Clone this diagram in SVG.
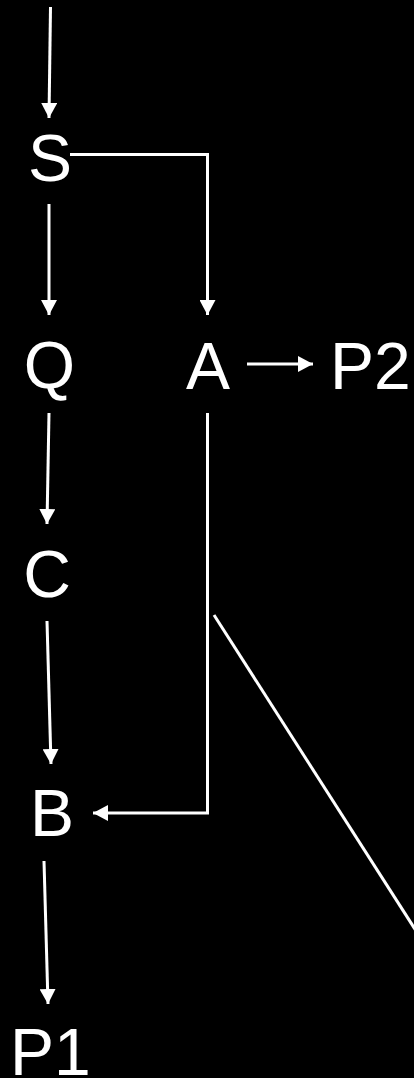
<svg xmlns="http://www.w3.org/2000/svg" width="414" height="1078" viewBox="0 0 414 1078">
<defs>
<style>
.lbl{font-family:"Liberation Sans",Arial,sans-serif;font-size:66px;fill:#fff}
.edge{stroke:#fff;stroke-width:3;fill:none}
</style>
<marker id="ah" markerUnits="userSpaceOnUse" markerWidth="16" markerHeight="16" viewBox="0 0 16 16" refX="15" refY="8" orient="auto">
<path d="M0,0 L15,8 L0,16 Z" fill="#fff"/>
</marker>
</defs>
<rect width="414" height="1078" fill="#000"/>
<g id="connectors">
<path class="edge" d="M50.5,7 L49,118" marker-end="url(#ah)"/>
<path class="edge" d="M70,154.5 L207.5,154.5 L207.5,315" marker-end="url(#ah)"/>
<path class="edge" d="M49,204 L49,315" marker-end="url(#ah)"/>
<path class="edge" d="M247,364 L313,364" marker-end="url(#ah)"/>
<path class="edge" d="M49,413 L47,524" marker-end="url(#ah)"/>
<path class="edge" d="M207.5,413 L207.5,813 L93,813" marker-end="url(#ah)"/>
<path class="edge" d="M47,621 L51,764" marker-end="url(#ah)"/>
<path class="edge" d="M214,615 L420,937"/>
<path class="edge" d="M44,861 L48,1004" marker-end="url(#ah)"/>
</g>
<g id="node-S"><text class="lbl" x="50" y="181" text-anchor="middle">S</text></g>
<g id="node-Q"><text class="lbl" x="49.5" y="388" text-anchor="middle">Q</text></g>
<g id="node-A"><text class="lbl" x="208" y="389" text-anchor="middle">A</text></g>
<g id="node-P2"><text class="lbl" x="330" y="389">P2</text></g>
<g id="node-C"><text class="lbl" x="47" y="597" text-anchor="middle">C</text></g>
<g id="node-B"><text class="lbl" x="52" y="836" text-anchor="middle">B</text></g>
<g id="node-P1"><text class="lbl" x="10" y="1075">P1</text></g>
</svg>
